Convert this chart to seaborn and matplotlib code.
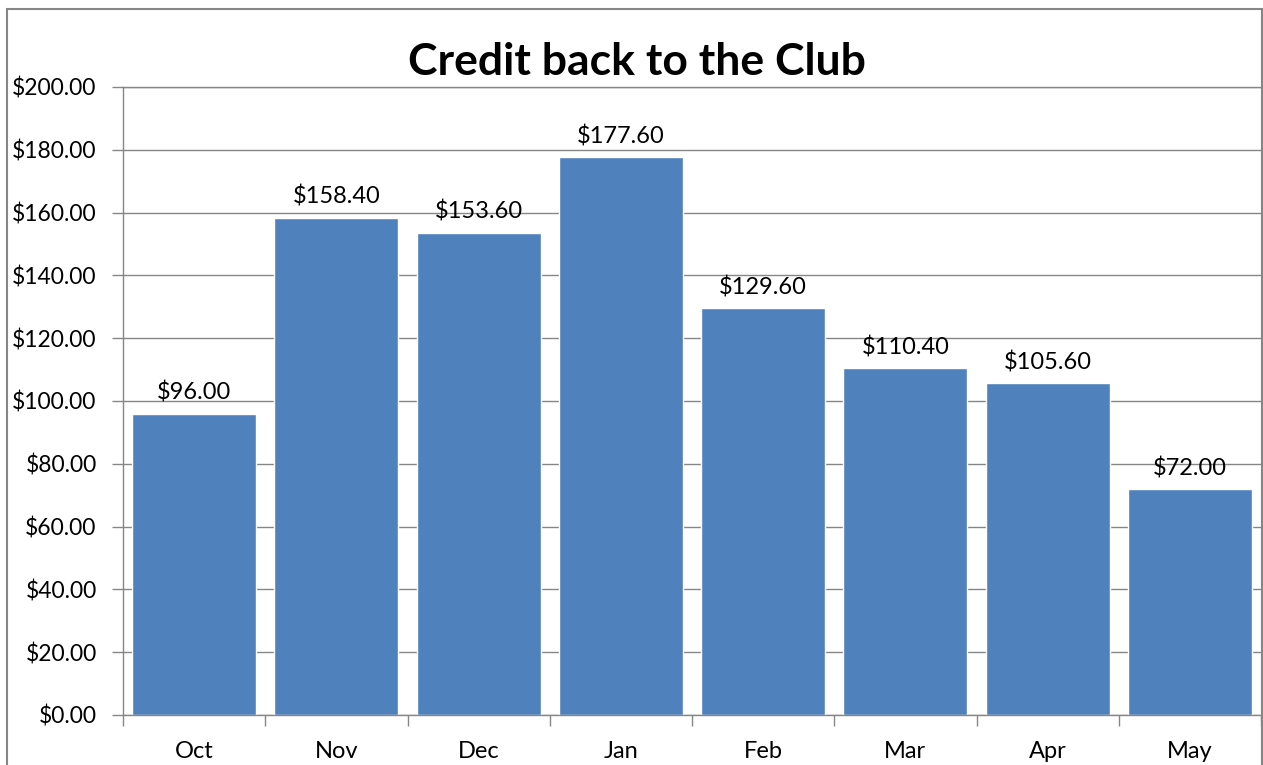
import matplotlib
matplotlib.use("Agg")
import matplotlib.pyplot as plt
import seaborn as sns
import pandas as pd
from matplotlib.patches import Rectangle
from matplotlib.ticker import FuncFormatter, FixedLocator

months = ["Oct", "Nov", "Dec", "Jan", "Feb", "Mar", "Apr", "May"]
credit = [96.00, 158.40, 153.60, 177.60, 129.60, 110.40, 105.60, 72.00]
y_ticks = [0, 20, 40, 60, 80, 100, 120, 140, 160, 180, 200]

df = pd.DataFrame({"Month": months, "Credit": credit})

sns.set_theme(style="white")
plt.rcParams["font.family"] = ["Lato", "DejaVu Sans"]
plt.rcParams["text.color"] = "black"
plt.rcParams["xtick.color"] = "black"
plt.rcParams["ytick.color"] = "black"

grey = "#868686"
fig = plt.figure(figsize=(12.63, 7.65), dpi=100)
ax = fig.add_axes([123 / 1263, 1 - 715 / 765, (1261 - 123) / 1263, (715 - 87) / 765])

sns.barplot(data=df, x="Month", y="Credit", color="#4F81BD", saturation=1,
            width=0.87, ax=ax)
ax.bar_label(ax.containers[0], fmt="${:.2f}", padding=7, fontsize=17, color="black")

ax.set_xlim(-0.5, len(months) - 0.5)
ax.set_ylim(0, 200)
ax.set_yticks(y_ticks)
ax.yaxis.set_major_formatter(FuncFormatter(lambda v, p: f"${v:.2f}"))
ax.yaxis.grid(True, color=grey, linewidth=1)
ax.set_axisbelow(True)
ax.set_xlabel("")
ax.set_ylabel("")

ax.tick_params(axis="y", which="major", length=8, width=1, color=grey,
               labelcolor="black", labelsize=16.5, pad=11, left=True)
ax.tick_params(axis="x", which="major", length=0, labelcolor="black",
               labelsize=17, pad=19)
ax.xaxis.set_minor_locator(FixedLocator([i + 0.5 for i in range(-1, len(months))]))
ax.tick_params(axis="x", which="minor", length=8, width=1, color=grey, bottom=True)

for side in ["left", "bottom", "top"]:
    ax.spines[side].set_visible(True)
    ax.spines[side].set_color(grey)
    ax.spines[side].set_linewidth(1)
ax.spines["right"].set_visible(False)

fig.text(0.504, 1 - 62 / 765, "Credit back to the Club", ha="center", va="center",
         fontsize=32, fontweight="bold", color="black")

fig.patches.append(Rectangle((7 / 1263, -0.05), (1262 - 7) / 1263, 1 - 9 / 765 + 0.05,
                             transform=fig.transFigure, fill=False,
                             edgecolor=grey, linewidth=1.5))

fig.savefig("out.png", dpi=100)
